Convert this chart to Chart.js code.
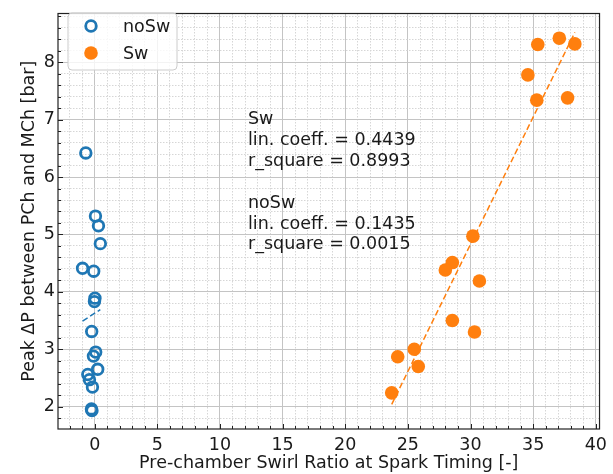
<!DOCTYPE html>
<html>
<head>
<meta charset="utf-8">
<script src="https://cdn.jsdelivr.net/npm/chart.js@4.4.0/dist/chart.umd.min.js"></script>
<style>
  html, body { margin: 0; padding: 0; background: #fff; }
  #wrap { width: 613px; height: 474px; }
</style>
</head>
<body>
<div id="wrap"><canvas id="chart" width="613" height="474"></canvas></div>
<script>
// values
const noSwX = [-0.71, 0.06, 0.30, 0.45, -0.97, -0.08, 0.02, -0.02, -0.24, 0.08, -0.10, 0.24, -0.55, -0.42, -0.18, -0.26, -0.22];
const noSwY = [6.42, 5.32, 5.15, 4.84, 4.41, 4.36, 3.89, 3.83, 3.31, 2.95, 2.88, 2.65, 2.56, 2.47, 2.34, 1.96, 1.93];
const swX = [35.37, 37.09, 38.33, 34.58, 35.29, 37.75, 30.19, 28.55, 27.99, 30.71, 28.55, 30.32, 25.51, 24.19, 25.83, 23.71];
const swY = [8.31, 8.42, 8.32, 7.78, 7.34, 7.38, 4.97, 4.51, 4.38, 4.19, 3.50, 3.30, 3.00, 2.87, 2.70, 2.24];

// fitted lines (end points)
const noSwFitX = [-0.97, 0.45];
const noSwFitY = [3.49, 3.69];
const swFitX = [23.71, 38.33];
const swFitY = [2.04, 8.52];

const xTickLabels = [0, 5, 10, 15, 20, 25, 30, 35, 40];
const yTickLabels = [2, 3, 4, 5, 6, 7, 8];
const legendLabels = ['noSw', 'Sw'];
const statsLines = ['Sw', 'lin. coeff. = 0.4439', 'r_square = 0.8993', '',
                    'noSw', 'lin. coeff. = 0.1435', 'r_square = 0.0015'];

const FONT = 'DejaVu Sans';
const TEXT = '#1a1a1a';
const BLUE = '#1f77b4';
const ORANGE = '#ff7f0e';
const X_MIN = -2.93, X_MAX = 40.3, Y_MIN = 1.61, Y_MAX = 8.85;

const toPoints = (xs, ys) => xs.map((x, i) => ({ x: x, y: ys[i] }));

function minorTicks(lo, hi, step, isMajor) {
  const out = [];
  for (let v = lo; v <= hi + 1e-9; v += step) {
    const r = Math.round(v * 10) / 10;
    if (!isMajor(r)) out.push({ value: r });
  }
  return out;
}

// frame, inward ticks, legend and fit statistics
const decorations = {
  id: 'decorations',
  afterDraw(chart) {
    const { ctx, chartArea: a, scales } = chart;
    ctx.save();

    // inward tick marks
    ctx.strokeStyle = '#222';
    ctx.lineWidth = 1;
    ctx.beginPath();
    scales.x.ticks.forEach(t => {
      const px = Math.round(scales.x.getPixelForValue(t.value)) + 0.5;
      ctx.moveTo(px, a.bottom); ctx.lineTo(px, a.bottom - 5);
    });
    scales.xMinor.ticks.forEach(t => {
      const px = Math.round(scales.x.getPixelForValue(t.value)) + 0.5;
      ctx.moveTo(px, a.bottom); ctx.lineTo(px, a.bottom - 3);
    });
    scales.y.ticks.forEach(t => {
      const py = Math.round(scales.y.getPixelForValue(t.value)) + 0.5;
      ctx.moveTo(a.left, py); ctx.lineTo(a.left + 5, py);
    });
    scales.yMinor.ticks.forEach(t => {
      const py = Math.round(scales.y.getPixelForValue(t.value)) + 0.5;
      ctx.moveTo(a.left, py); ctx.lineTo(a.left + 3, py);
    });
    ctx.stroke();

    // frame
    ctx.strokeStyle = '#222';
    ctx.lineWidth = 1.2;
    ctx.strokeRect(a.left, a.top, a.right - a.left, a.bottom - a.top);

    // legend
    const lx = 68, ly = 13, lw = 109, lh = 57, r = 4;
    ctx.beginPath();
    ctx.moveTo(lx + r, ly);
    ctx.arcTo(lx + lw, ly, lx + lw, ly + lh, r);
    ctx.arcTo(lx + lw, ly + lh, lx, ly + lh, r);
    ctx.arcTo(lx, ly + lh, lx, ly, r);
    ctx.arcTo(lx, ly, lx + lw, ly, r);
    ctx.closePath();
    ctx.fillStyle = 'rgba(255,255,255,0.8)';
    ctx.fill();
    ctx.strokeStyle = '#cccccc';
    ctx.lineWidth = 1;
    ctx.stroke();

    const sets = [chart.data.datasets[2], chart.data.datasets[3]];
    ctx.font = '17.5px "' + FONT + '"';
    ctx.textBaseline = 'middle';
    ctx.textAlign = 'left';
    legendLabels.forEach((lab, i) => {
      const ds = sets[i];
      const cy = 26 + i * 27;
      ctx.beginPath();
      ctx.arc(91, cy, ds.pointRadius, 0, Math.PI * 2);
      if (ds.borderWidth > 0) {
        ctx.lineWidth = ds.borderWidth;
        ctx.strokeStyle = ds.borderColor;
        ctx.stroke();
      } else {
        ctx.fillStyle = ds.backgroundColor;
        ctx.fill();
      }
      ctx.fillStyle = TEXT;
      ctx.fillText(lab, 123, cy + 1);
    });

    // statistics text
    ctx.textBaseline = 'alphabetic';
    statsLines.forEach((line, i) => {
      ctx.fillText(line, 248, 124 + i * 20.9);
    });
    ctx.restore();
  }
};

const ctx = document.getElementById('chart').getContext('2d');
new Chart(ctx, {
  type: 'scatter',
  data: {
    datasets: [
      {
        label: 'noSw fit', type: 'line', data: toPoints(noSwFitX, noSwFitY),
        borderColor: BLUE, borderWidth: 1.5, borderDash: [6, 3],
        pointRadius: 0, fill: false
      },
      {
        label: 'Sw fit', type: 'line', data: toPoints(swFitX, swFitY),
        borderColor: ORANGE, borderWidth: 1.5, borderDash: [6, 3],
        pointRadius: 0, fill: false
      },
      {
        label: 'noSw', data: toPoints(noSwX, noSwY),
        pointRadius: 5.3, borderWidth: 2.8, borderColor: BLUE,
        backgroundColor: 'rgba(0,0,0,0)'
      },
      {
        label: 'Sw', data: toPoints(swX, swY),
        pointRadius: 6.8, borderWidth: 0, borderColor: ORANGE,
        backgroundColor: ORANGE
      }
    ]
  },
  options: {
    responsive: false,
    animation: false,
    events: [],
    layout: { padding: { left: 0, right: 10, top: 3, bottom: 0 } },
    plugins: { legend: { display: false }, tooltip: { enabled: false } },
    scales: {
      x: {
        type: 'linear', position: 'bottom', min: X_MIN, max: X_MAX,
        afterBuildTicks: s => { s.ticks = xTickLabels.map(v => ({ value: v })); },
        afterFit: s => { s.height = 45; },
        grid: { color: '#c4c4c4', lineWidth: 1, drawTicks: false },
        border: { display: false },
        ticks: { color: TEXT, font: { family: FONT, size: 17.5 }, padding: 6, maxRotation: 0, autoSkip: false },
        title: {
          display: true, text: 'Pre-chamber Swirl Ratio at Spark Timing [-]',
          color: TEXT, font: { family: FONT, size: 17.5 }, padding: { top: 0, bottom: 0 }
        }
      },
      xMinor: {
        type: 'linear', position: 'top', min: X_MIN, max: X_MAX,
        afterBuildTicks: s => { s.ticks = minorTicks(-2, 40, 1, v => v % 5 === 0); },
        afterFit: s => { s.height = 0; },
        grid: { color: '#d6d6d6', lineWidth: 1, drawTicks: false },
        border: { display: false, dash: [1.5, 1.5] },
        ticks: { display: false }
      },
      y: {
        type: 'linear', position: 'left', min: Y_MIN, max: Y_MAX,
        afterBuildTicks: s => { s.ticks = yTickLabels.map(v => ({ value: v })); },
        afterFit: s => { s.width = 58; },
        grid: { color: '#c4c4c4', lineWidth: 1, drawTicks: false },
        border: { display: false },
        ticks: { color: TEXT, font: { family: FONT, size: 17.5 }, padding: 3, autoSkip: false },
        title: {
          display: true, text: 'Peak ΔP between PCh and MCh [bar]',
          color: TEXT, font: { family: FONT, size: 17.5 }, padding: { top: 19, bottom: 0 }
        }
      },
      yMinor: {
        type: 'linear', position: 'right', min: Y_MIN, max: Y_MAX,
        afterBuildTicks: s => { s.ticks = minorTicks(1.8, 8.8, 0.2, v => Math.abs(v - Math.round(v)) < 1e-6); },
        afterFit: s => { s.width = 0; },
        grid: { color: '#d6d6d6', lineWidth: 1, drawTicks: false },
        border: { display: false, dash: [1.5, 1.5] },
        ticks: { display: false }
      }
    }
  },
  plugins: [decorations]
});
</script>
</body>
</html>
